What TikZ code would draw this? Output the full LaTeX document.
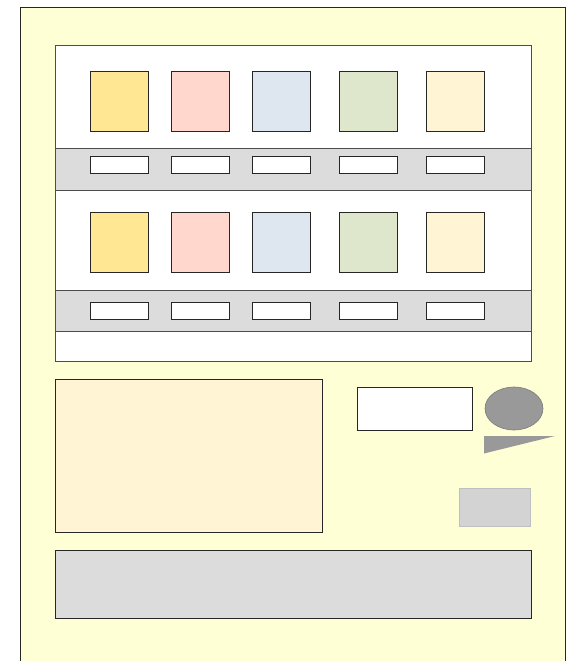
\documentclass[tikz,border=0pt]{standalone}
\usetikzlibrary{shapes.geometric}
\definecolor{bodyc}{HTML}{FFFFD6}
\definecolor{yel}{HTML}{FFE793}
\definecolor{pnk}{HTML}{FFD7CD}
\definecolor{blu}{HTML}{DEE6F0}
\definecolor{grn}{HTML}{DEE7CB}
\definecolor{crm}{HTML}{FFF4D3}
\definecolor{band}{HTML}{DCDCDC}
\definecolor{dk}{HTML}{999999}
\definecolor{lg}{HTML}{D3D3D3}
\tikzset{
  outl/.style={draw=black!85, line width=0.8pt},
  prod/.style={outl},
  lbl/.style={outl, fill=white},
}
\begin{document}
\begin{tikzpicture}[x=1pt,y=-1pt]
\useasboundingbox (0,0) rectangle (571,661);
% body
\draw[outl, fill=bodyc] (20,7) -- (20,670) (20,670) rectangle (565,7);
\fill[bodyc] (20.4,7.4) rectangle (564.6,670);
\draw[outl] (20,670) -- (20,7) -- (565,7) -- (565,670);
% display window
\draw[draw=black!70, line width=0.8pt, fill=white] (55,45) rectangle (531,361);
\draw[draw=black!70, line width=0.8pt, fill=band] (55,148) rectangle (531,190);
\draw[draw=black!70, line width=0.8pt, fill=band] (55,290) rectangle (531,331);
% products row 1
\foreach \x/\c in {90/yel,171/pnk,252/blu,339/grn,426/crm}{
  \draw[prod, fill=\c] (\x,71) rectangle ++(58,60);
  \draw[lbl] (\x,156) rectangle ++(58,17);
  \draw[prod, fill=\c] (\x,212) rectangle ++(58,60);
  \draw[lbl] (\x,302) rectangle ++(58,17);
}
% lower panel
\draw[outl, fill=crm] (55,379) rectangle (322,532);
\draw[outl, fill=white] (357,387) rectangle (472,430);
\draw[draw=dk!80!black, line width=0.6pt, fill=dk] (514,408.5) ellipse [x radius=29, y radius=21.5];
\fill[dk] (484,436) -- (555,436) -- (484,453.5) -- cycle;
\draw[draw=black!25, line width=0.8pt, fill=lg] (459,488) rectangle (530,526);
% tray
\draw[outl, fill=band] (55,550) rectangle (531,618);
\end{tikzpicture}
\end{document}
